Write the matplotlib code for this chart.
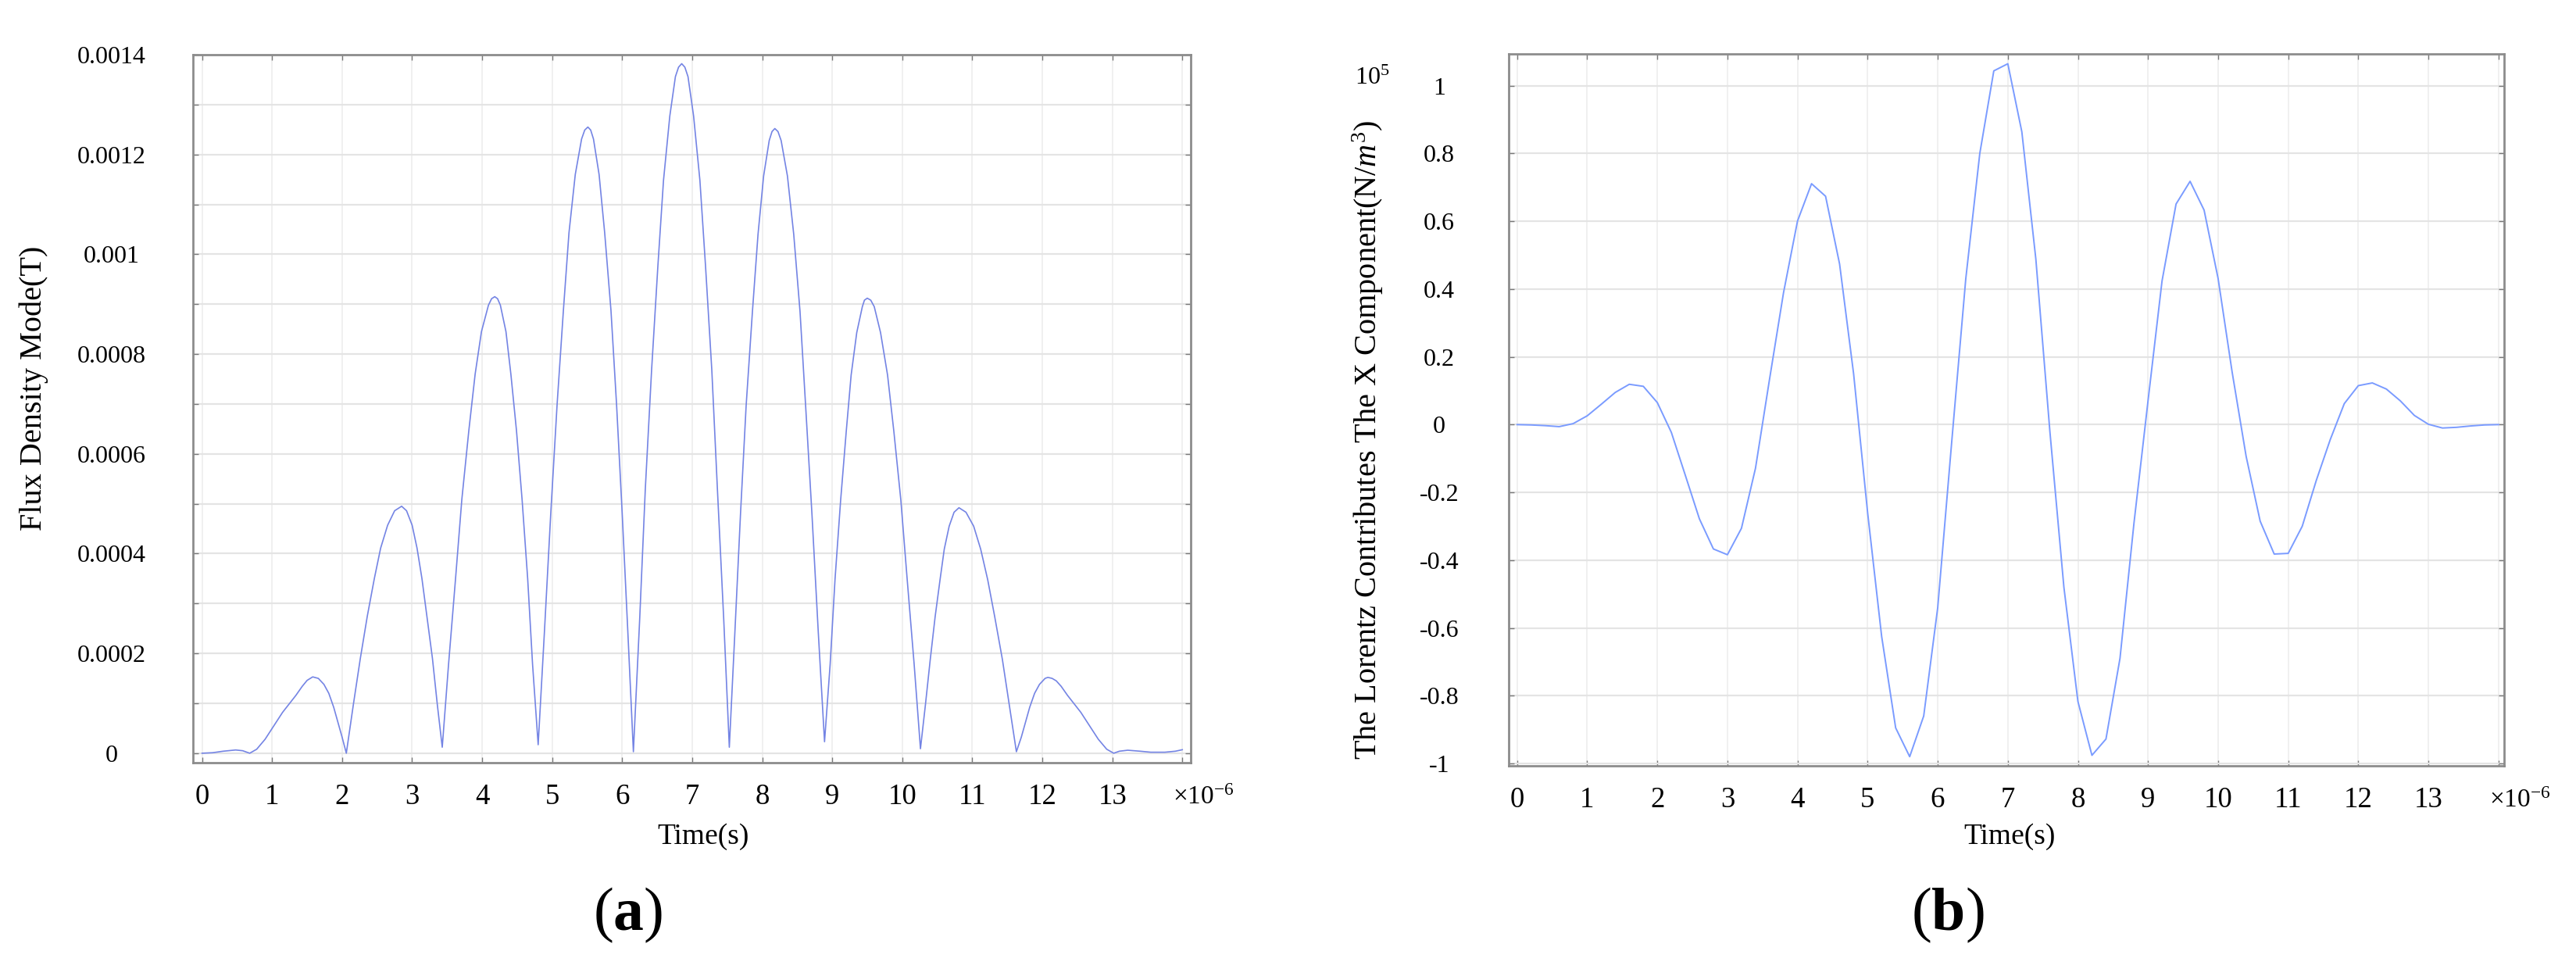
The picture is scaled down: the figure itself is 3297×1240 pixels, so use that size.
import numpy as np
import matplotlib
matplotlib.use('Agg')
import matplotlib.pyplot as plt

plt.rcParams['font.family'] = 'Liberation Serif'
plt.rcParams['mathtext.fontset'] = 'custom'
plt.rcParams['mathtext.rm'] = 'Liberation Serif'
plt.rcParams['mathtext.it'] = 'Liberation Serif:italic'
plt.rcParams['mathtext.bf'] = 'Liberation Serif:bold'

# (a) flux density mode, time in us, value in 1e-4 T
t_a = [0.00, 0.15, 0.30, 0.48, 0.58, 0.68, 0.78, 0.90, 1.03, 1.15, 1.25, 1.34, 1.43, 1.50,
       1.58, 1.66, 1.74, 1.81, 1.88, 1.94, 2.00, 2.06,
       2.16, 2.26, 2.36, 2.46, 2.55, 2.65, 2.75, 2.85,
       2.92, 3.00, 3.07, 3.14, 3.21, 3.29, 3.36, 3.43,
       3.52, 3.62, 3.71, 3.81, 3.90, 3.99, 4.09, 4.135, 4.18,
       4.22, 4.26, 4.34, 4.41, 4.49, 4.57, 4.65, 4.72, 4.80,
       4.89, 4.98, 5.07, 5.16, 5.24, 5.33, 5.42, 5.465, 5.51,
       5.55, 5.59, 5.67, 5.75, 5.84, 5.92, 6.00, 6.08, 6.16,
       6.25, 6.33, 6.42, 6.51, 6.59, 6.68, 6.76, 6.805, 6.85,
       6.895, 6.94, 7.02, 7.11, 7.19, 7.28, 7.36, 7.45, 7.53,
       7.61, 7.69, 7.77, 7.86, 7.94, 8.02, 8.10, 8.14, 8.18,
       8.225, 8.27, 8.36, 8.45, 8.54, 8.62, 8.71, 8.80, 8.89,
       8.97, 9.04, 9.12, 9.20, 9.27, 9.35, 9.43, 9.46, 9.50,
       9.55, 9.60, 9.69, 9.79, 9.88, 9.98, 10.07, 10.17, 10.26,
       10.33, 10.40, 10.47, 10.54, 10.60, 10.67, 10.74, 10.81,
       10.91, 11.02, 11.12, 11.22, 11.32, 11.43, 11.53, 11.63,
       11.70, 11.76, 11.82, 11.89, 11.96, 12.04, 12.08,
       12.14, 12.20, 12.27, 12.36, 12.45, 12.55, 12.67, 12.80, 12.92, 13.02,
       13.10, 13.22, 13.40, 13.55, 13.75, 13.90, 14.00]
flux_a = [0.00, 0.01, 0.04, 0.065, 0.05, 0.00, 0.08, 0.28, 0.56, 0.82, 1.00, 1.16, 1.34, 1.46,
          1.53, 1.50, 1.38, 1.20, 0.92, 0.62, 0.32, 0.00,
          0.97, 1.90, 2.75, 3.50, 4.11, 4.57, 4.86, 4.95,
          4.86, 4.57, 4.11, 3.50, 2.75, 1.90, 0.97, 0.12,
          1.78, 3.50, 5.09, 6.47, 7.60, 8.45, 8.98, 9.11, 9.15,
          9.11, 8.98, 8.45, 7.60, 6.47, 5.09, 3.50, 1.78, 0.17,
          2.45, 4.81, 6.98, 8.87, 10.43, 11.60, 12.31, 12.49, 12.55,
          12.49, 12.31, 11.60, 10.43, 8.87, 6.98, 4.81, 2.45, 0.03,
          2.69, 5.29, 7.68, 9.77, 11.48, 12.77, 13.56, 13.75, 13.82,
          13.75, 13.56, 12.77, 11.48, 9.77, 7.68, 5.29, 2.69, 0.12,
          2.44, 4.80, 6.96, 8.85, 10.40, 11.57, 12.28, 12.46, 12.52,
          12.46, 12.28, 11.57, 10.40, 8.85, 6.96, 4.80, 2.44, 0.23,
          1.78, 3.49, 5.07, 6.45, 7.58, 8.43, 8.95, 9.08, 9.12,
          9.08, 8.95, 8.43, 7.58, 6.45, 5.07, 3.49, 1.78, 0.09,
          0.96, 1.88, 2.74, 3.48, 4.09, 4.55, 4.83, 4.92,
          4.83, 4.55, 4.09, 3.48, 2.74, 1.88, 0.96, 0.03,
          0.32, 0.62, 0.92, 1.20, 1.38, 1.50, 1.52,
          1.50, 1.45, 1.34, 1.16, 1.00, 0.82, 0.56, 0.28, 0.08, 0.00,
          0.04, 0.06, 0.04, 0.02, 0.02, 0.04, 0.07]

# (b) lorentz force x component, sampled every 0.2 us, value in 1e5 N/m^3
t_b = [round(0.2 * i, 1) for i in range(71)]
force_b = [0.000, -0.001, -0.003, -0.006, 0.003, 0.026, 0.060, 0.095, 0.119, 0.113,
           0.065, -0.023, -0.150, -0.278, -0.367, -0.384, -0.306, -0.129, 0.133, 0.389,
           0.601, 0.711, 0.674, 0.474, 0.150, -0.260, -0.625, -0.895, -0.980, -0.860,
           -0.540, -0.050, 0.430, 0.800, 1.044, 1.065, 0.864, 0.488, -0.020, -0.480,
           -0.817, -0.976, -0.928, -0.690, -0.290, 0.070, 0.424, 0.651, 0.718, 0.633,
           0.431, 0.155, -0.094, -0.285, -0.382, -0.380, -0.300, -0.165, -0.044, 0.062,
           0.115, 0.123, 0.105, 0.070, 0.027, 0.001, -0.010, -0.008, -0.004, -0.001,
           0.000]

x_ticks = list(range(15))
x_labels = [str(i) for i in range(14)] + ['']
ya_ticks = [i * 1e-4 for i in range(15)]
ya_labels = ['0', '', '0.0002', '', '0.0004', '', '0.0006', '', '0.0008', '', '0.001', '',
             '0.0012', '', '0.0014']
yb_ticks = [-1, -0.8, -0.6, -0.4, -0.2, 0, 0.2, 0.4, 0.6, 0.8, 1]
yb_labels = ['-1', '-0.8', '-0.6', '-0.4', '-0.2', '0', '0.2', '0.4', '0.6', '0.8', '1']

W, H = 3298, 1240
fig = plt.figure(figsize=(W / 100, H / 100), dpi=100)
ax1 = fig.add_axes([247 / W, 1 - 976 / H, (1524 - 247) / W, (976 - 70) / H])
ax2 = fig.add_axes([1931 / W, 1 - 980 / H, (3205 - 1931) / W, (980 - 69) / H])


def style(ax, yticks, ylabels, ypad):
    ax.set_xticks(x_ticks)
    ax.set_xticklabels(x_labels, fontsize=26.5)
    ax.set_yticks(yticks)
    ax.set_yticklabels(ylabels, fontsize=23, ha='center')
    ax.tick_params(axis='x', direction='in', top=True, length=5, width=1, color='#777777', pad=19)
    ax.tick_params(axis='y', direction='in', right=True, length=5, width=1, color='#777777', pad=ypad)
    ax.xaxis.grid(True, color='#ececec', lw=1.1)
    ax.yaxis.grid(True, color='#e4e4e4', lw=1.6)
    ax.set_axisbelow(True)
    for s in ax.spines.values():
        s.set_color('#8c8c8c')
        s.set_linewidth(2.0)
    ax.annotate(r'$\times$10$^{-6}$', xy=(14, 0), xycoords=('data', 'axes fraction'),
                xytext=(19.5, -38), textcoords='offset points', ha='center', va='baseline',
                fontsize=24)


ax1.plot(t_a, np.array(flux_a) * 1e-4, color='#7484e4', lw=1.2)
ax1.set_xlim(-0.13, 14.12)
ax1.set_ylim(-0.19e-4, 14e-4)
style(ax1, ya_ticks, ya_labels, 75)
ax1.set_ylabel('Flux Density Mode(T)', fontsize=29)
ax1.yaxis.set_label_coords(-0.145, 0.529)
ax1.set_xlabel('Time(s)', fontsize=27)
ax1.xaxis.set_label_coords(0.511, -0.085)

ax2.plot(t_b, force_b, color='#7a9bff', lw=1.4)
ax2.set_xlim(-0.12, 14.08)
ax2.set_ylim(-1.007, 1.094)
style(ax2, yb_ticks, yb_labels, 64)
ax2.set_ylabel(r'The Lorentz Contributes The X Component(N/$m^3$)', fontsize=29)
ax2.yaxis.set_label_coords(-0.124, 0.458)
ax2.set_xlabel('Time(s)', fontsize=27)
ax2.xaxis.set_label_coords(0.503, -0.080)
ax2.text(-0.137, 0.966, r'10$^5$', transform=ax2.transAxes, ha='center', va='center', fontsize=23)

fig.text(804 / W, 1 - 1171 / H, r'($\mathbf{a}$)', ha='center', va='center', fontsize=56)
fig.text(2493 / W, 1 - 1171 / H, r'($\mathbf{b}$)', ha='center', va='center', fontsize=56)

fig.savefig('out.png', dpi=100)
